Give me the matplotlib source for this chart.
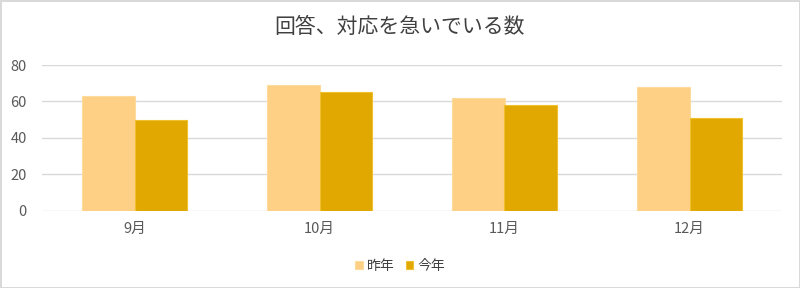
import numpy as np
import matplotlib.pyplot as plt

plt.rcParams['font.family'] = ['Noto Sans CJK JP', 'DejaVu Sans']

months = ['9月', '10月', '11月', '12月']
last_year = [63, 69, 62, 68]
this_year = [50, 65, 58, 51]
series_names = ['昨年', '今年']
yticks = [0, 20, 40, 60, 80]

fig = plt.figure(figsize=(8, 2.88), dpi=100, edgecolor='#d9d9d9', linewidth=2)
ax = fig.add_axes([0.0525, 0.2674, 0.925, 0.5069])

x = np.arange(len(months))
w = 0.286
ax.bar(x - w / 2, last_year, w, color='#fdd085', edgecolor='#fddb9c', linewidth=0.8,
       label=series_names[0], zorder=3)
ax.bar(x + w / 2, this_year, w, color='#e0a800', edgecolor='#f0c030', linewidth=0.8,
       label=series_names[1], zorder=3)

ax.set_xlim(-0.5, len(months) - 0.5)
ax.set_ylim(0, 80)
ax.set_yticks(yticks)
ax.set_xticks(x)
ax.set_xticklabels(months)
ax.grid(axis='y', color='#d9d9d9', linewidth=1, zorder=0)
for s in ax.spines.values():
    s.set_visible(False)
ax.tick_params(length=0, labelsize=10.5, colors='#595959', pad=8)
ax.tick_params(axis='y', pad=11)

fig.suptitle('回答、対応を急いでいる数', y=0.945, fontsize=15, color='#404040')

fig.legend(loc='center', bbox_to_anchor=(0.5, 0.076), ncol=2, frameon=False,
           fontsize=10, handlelength=0.55, handleheight=0.55, handletextpad=0.3,
           columnspacing=0.8, labelcolor='#404040')

fig.savefig('out.png', dpi=100, edgecolor=fig.get_edgecolor())
